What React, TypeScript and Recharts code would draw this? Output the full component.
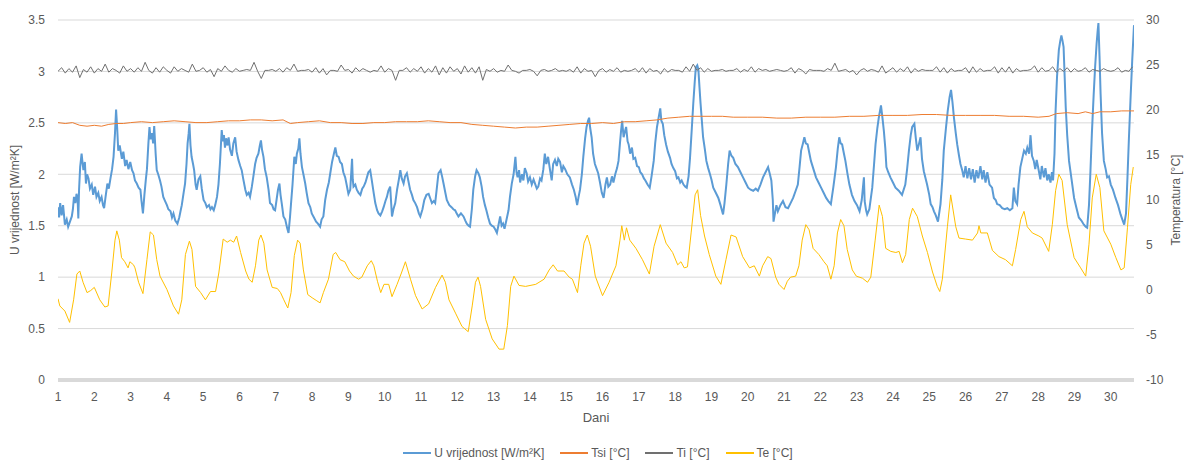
import React from "react";
import {
  LineChart,
  Line,
  XAxis,
  YAxis,
  CartesianGrid,
  ReferenceLine,
  Legend,
} from "recharts";

// ---- Data ----
const dayTicks = [1,2,3,4,5,6,7,8,9,10,11,12,13,14,15,16,17,18,19,20,21,22,23,24,25,26,27,28,29,30];
const uTicks = [0, 0.5, 1, 1.5, 2, 2.5, 3, 3.5];
const tTicks = [-10, -5, 0, 5, 10, 15, 20, 25, 30];

// U vrijednost [W/m²K] : [day, value]
const uSeries: number[][] = [
  [1.0,1.68],[1.03,1.58],[1.06,1.72],[1.1,1.6],[1.14,1.7],[1.19,1.51],[1.24,1.56],[1.28,1.49],[1.33,1.54],[1.38,1.59],
  [1.41,1.66],[1.44,1.78],[1.48,1.72],[1.51,1.81],[1.54,1.76],[1.56,1.57],[1.58,1.85],[1.61,2.07],[1.65,2.2],[1.68,2.1],
  [1.7,2.04],[1.74,2.12],[1.77,1.91],[1.8,2.0],[1.84,1.96],[1.88,1.86],[1.93,1.9],[1.97,1.8],[2.02,1.88],[2.06,1.78],
  [2.11,1.82],[2.15,1.74],[2.2,1.78],[2.24,1.7],[2.27,1.67],[2.31,1.78],[2.36,1.91],[2.4,1.86],[2.45,1.97],[2.49,2.05],
  [2.53,2.17],[2.57,2.4],[2.6,2.63],[2.63,2.45],[2.66,2.23],[2.7,2.28],[2.76,2.15],[2.8,2.22],[2.85,2.08],[2.89,2.14],
  [2.94,2.05],[2.99,2.12],[3.04,2.04],[3.08,2.01],[3.12,1.94],[3.17,1.91],[3.22,1.87],[3.27,1.85],[3.3,1.74],[3.34,1.62],
  [3.38,1.8],[3.42,1.95],[3.45,2.05],[3.49,2.3],[3.52,2.46],[3.55,2.34],[3.59,2.4],[3.62,2.3],[3.65,2.47],[3.69,2.2],
  [3.72,2.04],[3.76,2.0],[3.81,1.94],[3.85,1.88],[3.9,1.78],[3.95,1.74],[4.0,1.7],[4.04,1.66],[4.1,1.64],[4.14,1.58],
  [4.18,1.62],[4.23,1.55],[4.29,1.52],[4.34,1.58],[4.38,1.65],[4.41,1.7],[4.46,1.82],[4.5,1.91],[4.54,2.1],[4.57,2.3],
  [4.6,2.4],[4.62,2.49],[4.65,2.28],[4.68,2.17],[4.72,2.1],[4.75,2.04],[4.79,1.9],[4.82,1.85],[4.87,1.95],[4.92,1.98],
  [4.96,1.86],[5.01,1.75],[5.06,1.72],[5.1,1.68],[5.16,1.7],[5.2,1.66],[5.24,1.68],[5.29,1.65],[5.33,1.7],[5.38,1.78],
  [5.42,1.9],[5.46,2.1],[5.49,2.3],[5.51,2.43],[5.54,2.32],[5.57,2.38],[5.6,2.26],[5.63,2.35],[5.67,2.28],[5.7,2.36],
  [5.74,2.24],[5.79,2.18],[5.83,2.3],[5.88,2.36],[5.92,2.22],[5.97,2.14],[6.02,2.08],[6.06,2.04],[6.1,1.96],[6.16,1.85],
  [6.2,1.8],[6.25,1.82],[6.29,1.78],[6.34,1.88],[6.39,2.0],[6.43,2.1],[6.47,2.16],[6.52,2.2],[6.56,2.28],[6.59,2.33],
  [6.62,2.24],[6.66,2.17],[6.7,2.05],[6.75,1.97],[6.8,1.85],[6.84,1.72],[6.9,1.7],[6.94,1.66],[6.98,1.65],[7.02,1.75],
  [7.06,1.85],[7.1,1.91],[7.13,1.8],[7.17,1.7],[7.21,1.59],[7.26,1.56],[7.31,1.48],[7.35,1.43],[7.39,1.58],[7.42,1.72],
  [7.46,1.9],[7.51,2.17],[7.55,2.1],[7.58,2.2],[7.62,2.25],[7.65,2.35],[7.68,2.2],[7.72,2.07],[7.76,2.0],[7.81,1.91],
  [7.85,1.82],[7.9,1.72],[7.95,1.68],[7.99,1.62],[8.05,1.58],[8.11,1.54],[8.16,1.52],[8.22,1.49],[8.26,1.56],[8.31,1.59],
  [8.36,1.75],[8.41,1.85],[8.46,1.92],[8.5,2.01],[8.55,2.12],[8.6,2.2],[8.64,2.26],[8.68,2.18],[8.73,2.17],[8.77,2.12],
  [8.82,2.1],[8.86,2.02],[8.91,1.97],[8.95,1.9],[9.0,1.81],[9.05,1.85],[9.1,2.15],[9.12,1.95],[9.14,1.88],[9.19,1.9],
  [9.23,1.85],[9.28,1.82],[9.33,1.8],[9.38,1.86],[9.42,1.88],[9.47,1.92],[9.51,1.97],[9.55,2.02],[9.6,2.04],[9.64,1.95],
  [9.7,1.81],[9.74,1.72],[9.79,1.65],[9.83,1.62],[9.88,1.6],[9.93,1.64],[9.97,1.68],[10.02,1.74],[10.06,1.78],[10.1,1.84],
  [10.15,1.88],[10.2,1.59],[10.24,1.66],[10.29,1.72],[10.34,1.85],[10.39,1.95],[10.43,2.04],[10.47,1.96],[10.52,1.91],[10.56,1.98],
  [10.61,2.01],[10.66,1.92],[10.7,1.85],[10.75,1.8],[10.79,1.75],[10.84,1.72],[10.89,1.68],[10.94,1.62],[10.98,1.59],[11.04,1.66],
  [11.09,1.75],[11.15,1.8],[11.21,1.81],[11.26,1.76],[11.3,1.72],[11.35,1.74],[11.39,1.72],[11.44,1.88],[11.48,2.01],[11.54,2.04],
  [11.58,1.98],[11.62,1.91],[11.67,1.82],[11.71,1.75],[11.78,1.7],[11.84,1.68],[11.89,1.66],[11.94,1.65],[11.98,1.62],[12.03,1.59],
  [12.1,1.62],[12.17,1.59],[12.22,1.55],[12.26,1.52],[12.31,1.5],[12.35,1.49],[12.4,1.66],[12.44,1.85],[12.49,1.98],[12.53,2.04],
  [12.58,2.01],[12.62,1.97],[12.67,1.88],[12.71,1.78],[12.76,1.7],[12.8,1.65],[12.85,1.58],[12.9,1.52],[12.95,1.5],[13.0,1.49],
  [13.05,1.46],[13.09,1.43],[13.13,1.5],[13.18,1.59],[13.22,1.5],[13.26,1.52],[13.3,1.47],[13.35,1.55],[13.41,1.65],[13.45,1.78],
  [13.5,1.91],[13.55,2.0],[13.6,2.17],[13.63,2.02],[13.66,1.97],[13.7,2.04],[13.73,1.92],[13.78,2.0],[13.82,1.94],[13.86,2.06],
  [13.91,2.01],[13.95,1.93],[14.0,1.97],[14.05,1.9],[14.1,1.95],[14.14,1.91],[14.19,1.86],[14.23,1.88],[14.28,1.96],[14.32,1.94],
  [14.37,2.05],[14.41,2.2],[14.45,2.1],[14.5,2.17],[14.55,2.05],[14.6,1.94],[14.64,2.1],[14.69,2.14],[14.74,2.08],[14.78,2.15],
  [14.83,2.12],[14.88,2.02],[14.92,2.08],[14.97,2.05],[15.03,2.0],[15.1,1.97],[15.16,1.9],[15.21,1.85],[15.26,1.78],[15.3,1.7],
  [15.34,1.78],[15.38,1.85],[15.43,2.0],[15.47,2.17],[15.52,2.35],[15.56,2.46],[15.6,2.52],[15.63,2.55],[15.66,2.45],[15.7,2.36],
  [15.74,2.2],[15.79,2.1],[15.84,2.05],[15.88,2.01],[15.93,1.92],[15.98,1.82],[16.03,1.77],[16.08,1.9],[16.12,1.97],[16.16,1.88],
  [16.21,1.9],[16.26,1.98],[16.3,1.92],[16.35,2.0],[16.4,2.06],[16.44,2.13],[16.48,2.3],[16.51,2.42],[16.54,2.52],[16.58,2.36],
  [16.62,2.42],[16.65,2.46],[16.69,2.32],[16.72,2.29],[16.76,2.2],[16.81,2.26],[16.85,2.15],[16.9,2.16],[16.95,2.08],[17.0,2.07],
  [17.04,2.02],[17.09,2.0],[17.14,1.96],[17.18,1.94],[17.24,1.9],[17.3,1.87],[17.35,1.98],[17.41,2.13],[17.45,2.3],[17.5,2.46],
  [17.55,2.56],[17.59,2.64],[17.62,2.52],[17.66,2.49],[17.7,2.38],[17.75,2.29],[17.8,2.22],[17.86,2.16],[17.9,2.1],[17.95,2.06],
  [18.0,2.03],[18.05,1.96],[18.09,1.97],[18.14,1.92],[18.18,1.94],[18.23,1.9],[18.28,1.88],[18.32,1.87],[18.37,1.98],[18.41,2.16],
  [18.46,2.45],[18.5,2.69],[18.54,2.9],[18.57,3.04],[18.61,3.06],[18.64,3.02],[18.67,2.85],[18.7,2.69],[18.74,2.5],[18.77,2.36],
  [18.82,2.24],[18.86,2.13],[18.91,2.06],[18.96,2.0],[19.0,1.95],[19.05,1.87],[19.12,1.82],[19.19,1.77],[19.25,1.7],[19.32,1.61],
  [19.36,1.72],[19.41,1.9],[19.46,2.1],[19.5,2.23],[19.55,2.18],[19.6,2.16],[19.66,2.1],[19.73,2.07],[19.8,2.02],[19.87,1.97],
  [19.94,1.92],[20.01,1.87],[20.08,1.85],[20.15,1.84],[20.22,1.86],[20.28,1.84],[20.35,1.9],[20.42,1.97],[20.49,2.02],[20.56,2.07],
  [20.61,2.0],[20.65,1.94],[20.69,1.75],[20.71,1.54],[20.75,1.62],[20.79,1.7],[20.83,1.64],[20.9,1.7],[20.97,1.74],[21.04,1.68],
  [21.11,1.67],[21.18,1.72],[21.25,1.77],[21.32,1.84],[21.38,1.9],[21.43,2.08],[21.47,2.23],[21.52,2.3],[21.56,2.36],[21.6,2.3],
  [21.65,2.29],[21.7,2.2],[21.74,2.13],[21.81,2.05],[21.88,1.97],[21.95,1.92],[22.02,1.87],[22.09,1.82],[22.16,1.77],[22.22,1.74],
  [22.29,1.71],[22.36,1.88],[22.43,2.07],[22.48,2.25],[22.52,2.36],[22.56,2.3],[22.6,2.29],[22.65,2.2],[22.69,2.13],[22.75,2.0],
  [22.8,1.9],[22.87,1.8],[22.94,1.74],[23.01,1.7],[23.08,1.64],[23.14,1.75],[23.2,1.97],[23.22,1.74],[23.26,1.65],[23.29,1.61],
  [23.35,1.66],[23.43,1.87],[23.48,2.1],[23.52,2.29],[23.57,2.45],[23.61,2.55],[23.67,2.67],[23.71,2.55],[23.75,2.42],[23.79,2.25],
  [23.82,2.07],[23.87,2.02],[23.93,1.97],[24.0,1.92],[24.07,1.87],[24.16,1.84],[24.25,1.8],[24.34,1.9],[24.39,2.05],[24.44,2.23],
  [24.49,2.38],[24.53,2.46],[24.59,2.49],[24.63,2.35],[24.67,2.23],[24.72,2.3],[24.76,2.36],[24.8,2.15],[24.85,2.03],[24.94,1.9],
  [25.0,1.8],[25.04,1.71],[25.09,1.68],[25.13,1.64],[25.18,1.6],[25.24,1.54],[25.31,1.71],[25.36,1.95],[25.4,2.23],[25.46,2.45],
  [25.51,2.62],[25.56,2.75],[25.6,2.82],[25.64,2.7],[25.68,2.55],[25.73,2.4],[25.77,2.29],[25.82,2.18],[25.86,2.1],[25.9,2.05],
  [25.95,1.97],[26.0,2.08],[26.05,1.96],[26.1,2.06],[26.15,1.95],[26.2,2.05],[26.25,1.92],[26.3,2.04],[26.35,1.96],[26.41,2.08],
  [26.46,1.95],[26.5,2.04],[26.55,1.92],[26.6,2.02],[26.66,1.9],[26.73,1.87],[26.78,1.77],[26.83,1.75],[26.87,1.71],[26.94,1.7],
  [27.01,1.67],[27.08,1.66],[27.15,1.67],[27.22,1.65],[27.29,1.67],[27.33,1.87],[27.37,1.74],[27.42,1.71],[27.46,1.9],[27.51,2.07],
  [27.56,2.15],[27.61,2.23],[27.66,2.2],[27.7,2.26],[27.75,2.2],[27.79,2.38],[27.83,2.18],[27.88,2.13],[27.92,2.05],[27.96,2.14],
  [28.02,2.03],[28.06,1.95],[28.1,2.08],[28.16,1.97],[28.2,2.06],[28.25,1.94],[28.29,2.0],[28.34,1.92],[28.38,2.02],[28.41,1.94],
  [28.45,2.2],[28.48,2.62],[28.52,2.95],[28.57,3.21],[28.61,3.3],[28.64,3.35],[28.67,3.3],[28.7,3.24],[28.73,2.95],[28.76,2.65],
  [28.8,2.38],[28.85,2.13],[28.92,1.95],[28.99,1.77],[29.05,1.68],[29.12,1.58],[29.19,1.55],[29.26,1.51],[29.31,1.49],[29.35,1.48],
  [29.4,1.7],[29.44,2.03],[29.48,2.4],[29.53,2.78],[29.57,3.05],[29.61,3.27],[29.64,3.4],[29.66,3.47],[29.69,3.15],[29.72,2.78],
  [29.76,2.4],[29.81,2.13],[29.86,2.05],[29.9,1.97],[29.95,1.98],[30.0,1.9],[30.06,1.85],[30.13,1.77],[30.2,1.7],[30.27,1.61],
  [30.32,1.56],[30.37,1.51],[30.42,1.62],[30.46,1.97],[30.5,2.35],[30.55,2.78],[30.59,3.1],[30.64,3.45],
];

// Tsi [°C] : [day, value]
const tsiSeries: number[][] = [
  [1.0,18.6],[1.2,18.5],[1.4,18.6],[1.6,18.3],[1.8,18.2],[2.0,18.3],[2.2,18.2],[2.4,18.4],[2.6,18.5],[2.8,18.5],
  [3.0,18.6],[3.3,18.7],[3.6,18.6],[3.9,18.7],[4.2,18.8],[4.5,18.7],[4.8,18.6],[5.1,18.6],[5.4,18.7],[5.7,18.8],
  [6.0,18.8],[6.3,18.9],[6.6,18.9],[6.9,18.8],[7.2,18.9],[7.4,18.5],[7.6,18.6],[7.9,18.7],[8.2,18.8],[8.5,18.6],
  [8.8,18.6],[9.1,18.5],[9.4,18.5],[9.7,18.6],[10.0,18.6],[10.3,18.7],[10.6,18.7],[10.9,18.7],[11.2,18.8],[11.5,18.7],
  [11.8,18.6],[12.1,18.6],[12.4,18.4],[12.7,18.3],[13.0,18.2],[13.3,18.1],[13.6,18.0],[13.9,18.1],[14.2,18.1],[14.5,18.2],
  [14.8,18.3],[15.1,18.4],[15.4,18.5],[15.7,18.5],[16.0,18.6],[16.3,18.5],[16.6,18.7],[16.9,18.7],[17.2,18.8],[17.5,18.9],
  [17.8,19.1],[18.1,19.2],[18.4,19.3],[18.7,19.3],[19.0,19.3],[19.3,19.3],[19.6,19.2],[20.0,19.2],[20.4,19.2],[20.8,19.1],
  [21.2,19.1],[21.6,19.2],[22.0,19.2],[22.4,19.2],[22.8,19.3],[23.2,19.3],[23.6,19.4],[24.0,19.4],[24.4,19.4],[24.8,19.5],
  [25.2,19.5],[25.6,19.4],[26.0,19.4],[26.4,19.4],[26.8,19.4],[27.2,19.3],[27.6,19.3],[28.0,19.2],[28.3,19.3],[28.5,19.6],
  [28.8,19.7],[29.1,19.6],[29.3,19.8],[29.5,19.6],[29.7,19.8],[30.0,19.8],[30.3,19.9],[30.64,19.9],
];

// Ti [°C] : sampled every 0.1 day from day 1.0
const tiStart = 1.0;
const tiStep = 0.1;
const tiValues: number[] = [
  24.3,24.7,24.1,24.6,24.2,24.9,23.6,24.5,24.2,24.8,
  24.1,24.6,24.3,25.1,24.2,24.6,24.4,24.1,24.9,24.3,
  24.6,24.2,24.7,24.3,25.3,24.4,24.1,24.7,24.2,24.8,
  24.4,24.1,24.8,24.3,24.6,24.4,24.2,25.1,24.3,24.4,
  24.7,24.2,24.5,23.7,24.6,24.3,24.9,24.4,24.2,24.6,
  24.3,24.4,24.5,24.4,25.3,24.3,23.5,24.4,24.4,24.5,
  24.3,24.6,24.2,24.7,24.4,25.1,24.3,24.4,24.4,24.5,
  24.2,24.7,24.1,24.6,23.9,24.4,24.4,24.3,25.0,24.4,
  24.5,24.1,24.7,24.3,24.6,24.4,24.2,24.4,24.3,24.9,
  24.2,24.6,24.4,23.3,24.4,24.4,24.7,24.2,24.6,24.3,
  24.8,24.1,24.6,24.2,24.9,23.9,24.7,24.1,24.8,24.3,
  24.6,24.0,24.9,24.2,24.7,24.1,24.8,23.3,24.5,24.3,
  24.6,24.2,24.4,24.3,25.0,24.4,24.3,24.1,24.4,24.4,
  24.5,24.3,23.8,24.4,24.5,24.3,24.4,24.6,24.3,24.4,
  24.3,24.5,24.2,24.8,24.1,24.6,24.3,24.4,23.7,24.4,
  24.6,24.2,24.5,24.3,24.7,24.2,24.4,24.3,24.4,24.6,
  24.2,24.7,24.1,24.6,24.3,24.4,24.0,24.6,24.2,24.5,
  24.4,24.4,24.2,24.8,24.3,25.1,24.4,24.7,24.2,24.6,
  24.3,24.4,24.4,24.5,24.3,24.4,24.4,24.6,24.2,24.5,
  24.3,24.8,24.2,24.6,24.4,24.5,24.3,24.4,24.5,24.4,
  24.3,24.4,24.7,24.1,24.6,24.4,24.0,24.5,24.4,24.4,
  24.4,24.3,24.6,24.4,25.2,24.3,24.4,24.5,24.2,24.4,
  23.9,24.4,24.6,24.3,24.5,24.4,24.2,24.9,24.1,24.4,
  24.7,24.2,24.6,24.3,24.8,24.1,24.6,24.3,24.5,24.4,
  24.4,24.4,24.8,24.2,24.7,24.1,24.6,24.3,24.4,24.4,
  24.7,24.1,24.8,24.2,24.6,24.3,24.4,24.4,24.8,24.1,
  24.7,24.2,24.8,24.1,24.6,24.3,24.4,24.4,24.5,24.9,
  24.2,24.7,24.3,24.4,24.8,24.2,24.6,24.3,24.7,24.2,
  24.6,24.3,24.4,24.7,24.2,24.5,24.4,24.3,24.6,24.4,
  24.3,24.4,24.7,24.2,24.4,24.3,24.8,
];

// Te [°C] : [day, value]
const teSeries: number[][] = [
  [1.0,-0.97],[1.05,-1.77],[1.19,-2.34],[1.32,-3.6],[1.43,-1.09],[1.52,1.77],[1.6,2.11],[1.69,0.86],[1.8,-0.29],[1.9,-0.06],
  [2.0,0.29],[2.15,-1.09],[2.29,-1.89],[2.38,-1.77],[2.48,1.89],[2.57,5.54],[2.62,6.57],[2.69,5.54],[2.75,3.6],[2.84,3.14],
  [2.93,2.46],[2.98,3.14],[3.08,2.8],[3.12,2.46],[3.22,0.86],[3.34,-0.4],[3.45,3.37],[3.54,6.46],[3.63,6.11],[3.72,3.37],
  [3.81,1.54],[4.0,0.06],[4.18,-1.77],[4.32,-2.69],[4.41,-1.09],[4.51,3.94],[4.62,5.43],[4.69,4.51],[4.79,0.4],[4.93,-0.29],
  [5.06,-1.09],[5.2,-0.17],[5.34,-0.17],[5.43,1.89],[5.55,5.66],[5.66,5.31],[5.75,5.54],[5.84,5.31],[5.92,6.0],[6.03,4.17],
  [6.17,2.11],[6.26,1.2],[6.35,0.86],[6.44,2.69],[6.53,5.54],[6.59,6.11],[6.67,5.2],[6.76,2.23],[6.9,0.29],[7.04,0.17],
  [7.13,-0.29],[7.22,-1.09],[7.33,-2.0],[7.42,-0.29],[7.51,3.83],[7.6,5.54],[7.67,5.2],[7.76,2.23],[7.88,-0.51],[8.0,-0.86],
  [8.13,-1.2],[8.22,-1.43],[8.31,-0.29],[8.45,1.2],[8.58,3.94],[8.65,4.17],[8.77,3.37],[8.9,3.14],[9.03,2.11],[9.14,1.54],
  [9.28,1.2],[9.37,1.43],[9.52,2.69],[9.63,3.26],[9.7,2.69],[9.8,0.97],[9.89,-0.29],[9.98,0.63],[10.11,0.63],[10.2,-0.74],
  [10.34,0.63],[10.46,1.89],[10.57,3.14],[10.71,1.2],[10.85,-0.63],[11.03,-2.11],[11.21,-1.54],[11.4,0.29],[11.58,1.66],[11.67,0.86],
  [11.77,-1.09],[11.95,-2.57],[12.13,-4.06],[12.3,-4.63],[12.41,-1.77],[12.5,0.86],[12.57,1.43],[12.64,0.4],[12.78,-3.26],[12.96,-5.43],
  [13.15,-6.57],[13.28,-6.57],[13.38,-3.94],[13.47,0.4],[13.56,1.54],[13.7,0.51],[13.88,0.4],[14.16,0.63],[14.39,1.2],[14.53,2.23],
  [14.64,2.8],[14.76,2.11],[14.94,2.11],[15.08,1.43],[15.17,1.2],[15.31,-0.29],[15.4,2.69],[15.49,5.2],[15.58,6.11],[15.67,4.86],
  [15.8,1.54],[16.0,-0.63],[16.18,0.86],[16.37,2.69],[16.48,5.54],[16.53,7.14],[16.6,5.54],[16.66,6.91],[16.75,5.54],[16.92,4.63],
  [17.1,3.37],[17.29,1.77],[17.42,4.86],[17.59,7.26],[17.75,5.2],[17.93,4.17],[18.07,2.8],[18.16,3.14],[18.25,2.46],[18.34,2.57],
  [18.44,6.34],[18.55,10.57],[18.62,11.14],[18.7,8.29],[18.81,6.0],[18.94,3.94],[19.12,1.54],[19.26,0.63],[19.4,3.37],[19.54,6.11],
  [19.68,5.89],[19.86,3.71],[20.05,2.46],[20.18,2.69],[20.32,1.54],[20.41,2.69],[20.55,3.71],[20.64,3.49],[20.77,1.43],[20.86,0.63],
  [21.0,0.06],[21.09,0.97],[21.18,1.43],[21.32,1.54],[21.41,2.69],[21.5,5.54],[21.6,7.26],[21.69,6.69],[21.8,4.63],[21.96,3.94],
  [22.1,3.14],[22.19,2.69],[22.29,1.2],[22.38,2.69],[22.47,6.34],[22.56,7.83],[22.65,7.14],[22.74,4.51],[22.88,2.23],[22.99,1.54],
  [23.16,1.31],[23.3,0.86],[23.39,1.43],[23.51,5.54],[23.62,9.43],[23.71,8.17],[23.8,4.63],[23.94,4.29],[24.08,4.17],[24.17,4.29],
  [24.26,3.03],[24.35,3.94],[24.45,7.83],[24.54,9.09],[24.67,8.17],[24.81,6.0],[24.95,4.17],[25.09,2.0],[25.22,0.4],[25.29,-0.17],
  [25.36,1.2],[25.5,7.03],[25.59,10.57],[25.73,7.03],[25.82,5.77],[26.0,5.66],[26.19,5.54],[26.33,6.34],[26.37,7.14],[26.42,6.34],
  [26.6,6.34],[26.74,4.4],[26.92,3.71],[27.1,3.37],[27.29,2.69],[27.38,4.51],[27.52,7.83],[27.61,8.74],[27.7,7.03],[27.84,6.34],
  [28.02,6.0],[28.11,5.77],[28.29,4.29],[28.39,7.26],[28.48,11.03],[28.57,12.86],[28.66,12.17],[28.8,7.26],[28.99,3.6],[29.17,2.46],
  [29.31,1.54],[29.4,5.09],[29.49,10.23],[29.6,12.86],[29.7,11.37],[29.81,6.57],[30.0,5.09],[30.14,3.6],[30.28,2.23],[30.37,2.46],
  [30.46,6.91],[30.55,11.71],[30.62,13.66],
];

// ---- Series data built from the arrays above ----
const pairs = (arr: number[][]) => arr.map(([d, v]) => ({ d, v }));
const uData = pairs(uSeries);
const tsiData = pairs(tsiSeries);
const teData = pairs(teSeries);
const tiData = tiValues.map((v, i) => ({ d: Math.round((tiStart + i * tiStep) * 100) / 100, v }));

const COLORS = {
  u: "#5b9bd5",
  tsi: "#ed7d31",
  ti: "#707070",
  te: "#ffc000",
};

const FONT = "'Liberation Sans', Arial, sans-serif";
const TEXT = "#595959";

const legendItems = [
  { name: "U vrijednost [W/m²K]", color: COLORS.u },
  { name: "Tsi [°C]", color: COLORS.tsi },
  { name: "Ti [°C]", color: COLORS.ti },
  { name: "Te [°C]", color: COLORS.te },
];

const LegendContent = () => (
  <div
    style={{
      display: "flex",
      justifyContent: "center",
      alignItems: "center",
      fontFamily: FONT,
      fontSize: 12,
      color: TEXT,
      paddingLeft: 6,
    }}
  >
    {legendItems.map((it) => (
      <div key={it.name} style={{ display: "flex", alignItems: "center", margin: "0 8px" }}>
        <div style={{ width: 28, height: 1.5, background: it.color, marginRight: 3 }} />
        <span>{it.name}</span>
      </div>
    ))}
  </div>
);

export default function App() {
  return (
    <div style={{ position: "absolute", left: 0, top: 0, width: 1190, height: 463, background: "#fff" }}>
      <LineChart width={1190} height={463} margin={{ top: 20, right: 0, bottom: 33, left: 0 }}>
        <CartesianGrid yAxisId="left" horizontal vertical={false} stroke="#d9d9d9" strokeWidth={1} />
        <XAxis
          dataKey="d"
          type="number"
          domain={[1, 30.64]}
          ticks={dayTicks}
          allowDataOverflow
          axisLine={false}
          tickLine={false}
          tickMargin={6}
          height={50}
          tick={{ fill: TEXT, fontSize: 12, fontFamily: FONT }}
          label={{
            value: "Dani",
            position: "insideBottom",
            offset: 8,
            style: { fill: TEXT, fontSize: 13, fontFamily: FONT },
          }}
        />
        <YAxis
          yAxisId="left"
          orientation="left"
          domain={[0, 3.5]}
          ticks={uTicks}
          width={58}
          axisLine={false}
          tickLine={false}
          tickMargin={7}
          tick={{ fill: TEXT, fontSize: 12, fontFamily: FONT }}
          label={{
            value: "U vrijednost [W/m²K]",
            angle: -90,
            position: "insideLeft",
            offset: 15,
            style: { textAnchor: "middle", fill: TEXT, fontSize: 12, fontFamily: FONT },
          }}
        />
        <YAxis
          yAxisId="right"
          orientation="right"
          domain={[-10, 30]}
          ticks={tTicks}
          width={56}
          axisLine={false}
          tickLine={false}
          tickMargin={6}
          tick={{ fill: TEXT, fontSize: 12, fontFamily: FONT }}
          label={{
            value: "Temperatura [°C]",
            angle: -90,
            position: "insideRight",
            offset: 14,
            style: { textAnchor: "middle", fill: TEXT, fontSize: 12, fontFamily: FONT },
          }}
        />
        <ReferenceLine yAxisId="left" y={0} stroke="#d9d9d9" strokeWidth={4} />
        <Line
          yAxisId="left"
          data={uData}
          dataKey="v"
          name="U vrijednost [W/m²K]"
          type="linear"
          stroke={COLORS.u}
          strokeWidth={2}
          dot={false}
          activeDot={false}
          isAnimationActive={false}
        />
        <Line
          yAxisId="right"
          data={tsiData}
          dataKey="v"
          name="Tsi [°C]"
          type="linear"
          stroke={COLORS.tsi}
          strokeWidth={1}
          dot={false}
          activeDot={false}
          isAnimationActive={false}
        />
        <Line
          yAxisId="right"
          data={tiData}
          dataKey="v"
          name="Ti [°C]"
          type="linear"
          stroke={COLORS.ti}
          strokeWidth={1}
          dot={false}
          activeDot={false}
          isAnimationActive={false}
        />
        <Line
          yAxisId="right"
          data={teData}
          dataKey="v"
          name="Te [°C]"
          type="linear"
          stroke={COLORS.te}
          strokeWidth={1}
          dot={false}
          activeDot={false}
          isAnimationActive={false}
        />
        <Legend
          layout="horizontal"
          verticalAlign="middle"
          align="center"
          content={<LegendContent />}
          wrapperStyle={{ top: 446, left: 0, width: 1190 }}
        />
      </LineChart>
    </div>
  );
}
